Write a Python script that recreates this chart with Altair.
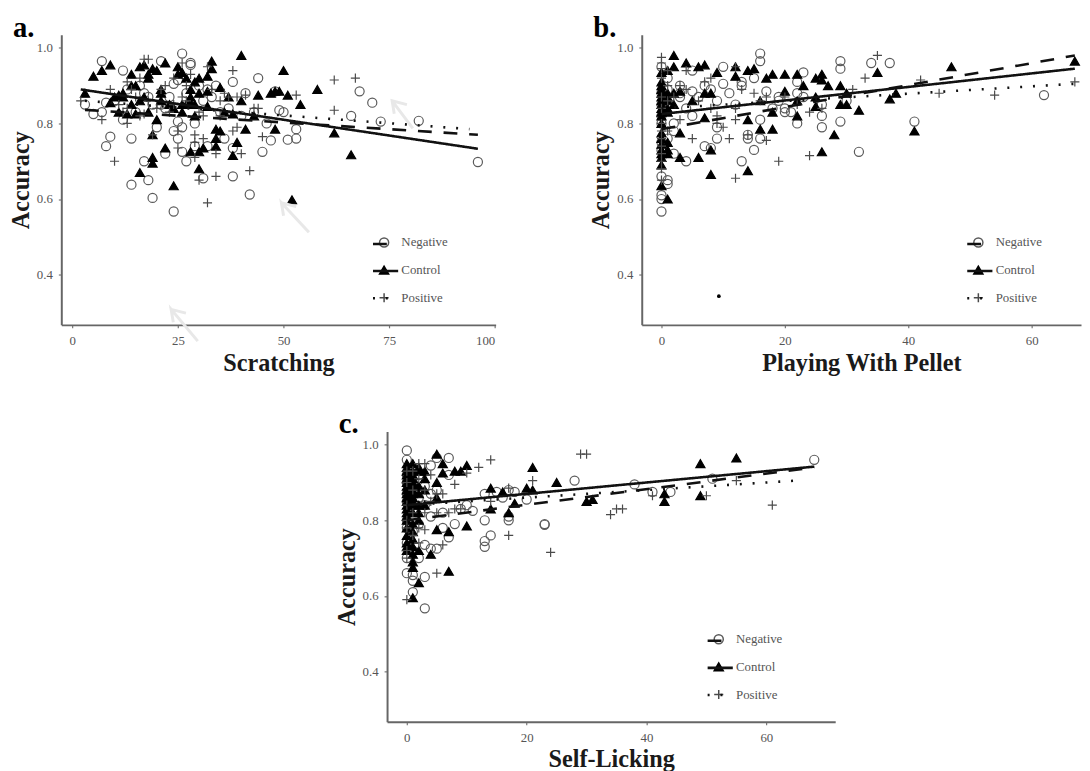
import altair as alt
import pandas as pd

GROUPS = ["Negative", "Control", "Positive"]

A_NEG_X = [7,12,26,28,21,38,44,24,25,68,71,66,73,82,96,53,53,51,47,45,46,49,38,38,42,31,27,22,24,25,26,25,26,14,9,8,14,17,18,19,24,3,5,7,8,17,20,21,29,32,36,30,32,22,33,15,40,43,50,10,13,16,19,23,27,28,31,34,35,37,29,18,12,41,48]
A_NEG_Y = [.965,.94,.985,.96,.965,.91,.92,.905,.915,.885,.855,.82,.805,.807,.698,.785,.76,.757,.755,.725,.80,.835,.735,.66,.612,.655,.70,.72,.78,.76,.725,.805,.79,.76,.765,.74,.638,.70,.65,.603,.567,.85,.825,.83,.855,.88,.79,.85,.74,.74,.76,.90,.89,.84,.87,.83,.82,.83,.83,.86,.89,.90,.85,.87,.88,.955,.86,.90,.83,.84,.80,.87,.81,.88,.885]
A_CON_X = [3,5,7,9,14,16,17,18,19,20,22,25,26,25,33,33,40,32,29,50,58,47,48,49,51,54,44,35,37,40,28,30,32,11,14,10,9,14,17,21,23,26,27,28,29,32,11,13,15,18,20,29,38,43,48,41,34,35,34,34,39,38,22,28,30,31,19,19,19,30,16,24,52,62,66,12,15,18,21,24,27,12,16,21,28,30,36,26]
A_CON_Y = [.88,.925,.94,.955,.93,.95,.955,.92,.945,.94,.96,.95,.935,.93,.965,.945,.98,.925,.91,.94,.89,.88,.885,.885,.875,.85,.875,.895,.87,.86,.89,.88,.885,.875,.90,.87,.855,.85,.87,.88,.85,.85,.85,.855,.85,.845,.83,.825,.825,.83,.81,.82,.825,.82,.785,.785,.785,.78,.76,.74,.75,.715,.735,.725,.725,.735,.71,.695,.77,.68,.67,.635,.598,.775,.717,.87,.90,.93,.89,.84,.92,.88,.86,.86,.87,.92,.83,.83]
A_POS_X = [2,7,10,13,9,13,17,18,19,16,17,25,25,24,26,29,29,31,29,34,30,34,32,42,40,38,45,41,38,39,53,62,67,62,35,36,31,35,26,20,13,11,43,28,22,15,12,14,18,23,27,30,33,37,39,44,27,21,24,16,32]
A_POS_Y = [.86,.81,.70,.80,.89,.91,.97,.97,.77,.82,.825,.78,.735,.92,.96,.77,.75,.76,.71,.72,.65,.66,.59,.675,.72,.78,.765,.875,.94,.87,.875,.915,.92,.835,.86,.88,.82,.82,.87,.84,.84,.85,.84,.93,.90,.87,.83,.89,.86,.83,.86,.83,.89,.87,.79,.84,.90,.89,.85,.92,.95]

B_NEG_X = [16,16,29,29,34,37,23,5,10,0,62,41,32,29,26,26,22,15,13,7,8,4,2,1,0,1,1,0,0,0,9,14,16,16,9,5,2,3,5,7,10,13,15,17,19,21,22,22,30,3,1,1,0,14,20,0,0,0,0,0,4,6,8,11,12,13,18,20,23,26,1,2,3,9,19]
B_NEG_Y = [.985,.965,.965,.945,.96,.96,.935,.94,.95,.95,.875,.805,.725,.805,.79,.82,.80,.73,.70,.74,.735,.70,.72,.76,.66,.65,.64,.61,.60,.567,.76,.76,.76,.81,.79,.82,.80,.87,.885,.90,.905,.90,.92,.885,.87,.83,.91,.88,.86,.90,.85,.89,.82,.77,.84,.75,.73,.85,.88,.80,.84,.87,.89,.88,.85,.91,.84,.83,.87,.85,.92,.78,.88,.86,.86]
B_CON_X = [2,4,6,7,2,1,0,9,12,14,15,12,17,18,20,22,25,26,26,27,29,35,47,67,38,37,30,29,30,32,28,26,41,22,25,25,20,23,22,16,18,14,16,18,14,8,8,6,3,3,7,7,8,5,3,1,1,0,0,0,0,0,0,0,0,0,0,0,0,1,1,2,0,0,0,0,1,1,1,1,2,0,0,0,1]
B_CON_Y = [.98,.96,.95,.955,.95,.94,.935,.935,.95,.94,.945,.925,.92,.93,.93,.93,.92,.93,.915,.90,.90,.935,.95,.965,.88,.865,.88,.85,.85,.835,.77,.725,.78,.82,.845,.87,.885,.90,.86,.86,.83,.81,.785,.785,.675,.665,.73,.71,.71,.775,.815,.88,.88,.86,.885,.86,.84,.90,.88,.87,.85,.83,.82,.76,.745,.73,.72,.69,.635,.60,.73,.85,.89,.86,.84,.775,.88,.87,.83,.75,.88,.91,.80,.71,.72]
B_POS_X = [0,0,0,35,33,42,45,54,67,24,19,12,17,11,5,9,12,12,17,15,12,8,4,3,1,0,0,0,0,0,0,0,1,2,6,8,10,14,24,31,20,0,0,1,1,3,4,7,9,13,16,22,26,0,0]
B_POS_Y = [.975,.96,.945,.98,.92,.915,.88,.875,.91,.715,.70,.655,.755,.76,.76,.80,.81,.84,.87,.88,.95,.92,.94,.90,.90,.80,.78,.74,.72,.70,.68,.65,.78,.87,.86,.84,.79,.77,.83,.89,.87,.87,.84,.94,.86,.81,.89,.91,.82,.89,.86,.85,.84,.92,.76]

C_NEG_X = [0,0,5,7,68,28,38,51,44,41,23,23,17,17,13,14,13,13,8,7,6,5,4,3,2,1,0,1,1,3,3,4,6,9,11,10,13,15,17,18,16,20,7,4,1,2,0,0,1,0,0,0,2,4,0,1,2,3,5,0,1,2,3,1,0]
C_NEG_Y = [.985,.96,.965,.965,.96,.905,.895,.91,.875,.875,.79,.788,.80,.81,.80,.76,.745,.73,.79,.755,.78,.725,.725,.735,.70,.655,.66,.64,.61,.65,.567,.81,.82,.83,.825,.84,.87,.875,.88,.875,.86,.855,.92,.945,.90,.88,.87,.85,.83,.80,.78,.74,.86,.87,.92,.94,.92,.89,.88,.90,.77,.79,.84,.72,.70]
C_CON_X = [5,10,9,8,6,6,21,25,20,21,14,16,17,14,18,30,31,43,43,49,55,49,10,7,5,4,7,2,1,1,1,0,0,1,2,1,0,0,1,0,1,0,1,0,1,0,1,0,1,0,1,2,3,3,5,5,3,2,2,0,0,0,1,3,0,0,0,0,0,0,1,1,1,1,1,2,2,2,2,0,0,1,1]
C_CON_Y = [.975,.945,.93,.93,.95,.925,.94,.90,.885,.88,.885,.875,.82,.83,.845,.85,.855,.87,.85,.95,.965,.865,.785,.77,.775,.71,.665,.635,.595,.675,.69,.72,.73,.71,.72,.77,.78,.81,.82,.83,.85,.86,.87,.88,.89,.90,.91,.92,.93,.94,.95,.94,.93,.91,.90,.86,.84,.80,.82,.95,.76,.74,.73,.88,.89,.87,.85,.84,.82,.80,.90,.88,.86,.84,.75,.89,.87,.84,.93,.93,.91,.79,.92]
C_POS_X = [29,30,14,12,10,8,21,55,50,41,34,35,36,61,17,24,5,6,3,0,0,0,6,3,2,4,7,8,5,0,1,1,0,2,0,17,14,3,1,2,3,4,0,1,2,0,9,5]
C_POS_Y = [.975,.975,.96,.94,.925,.895,.905,.905,.865,.865,.815,.83,.83,.84,.76,.715,.66,.735,.775,.59,.70,.80,.87,.95,.95,.92,.82,.83,.82,.90,.88,.76,.84,.78,.72,.885,.85,.82,.93,.91,.88,.85,.78,.82,.74,.93,.83,.87]

A_LINE_X = [3, 96, 2, 96, 3, 94]
A_LINE_Y = [.836, .77, .89, .733, .86, .785]
B_LINE_X = [0, 67, 0, 67, 0, 67]
B_LINE_Y = [.785, .98, .825, .945, .84, .905]
C_LINE_X = [0, 68, 0, 68, 0, 65]
C_LINE_Y = [.80, .94, .84, .942, .84, .905]
LINE_GROUP = ["Negative", "Negative", "Control", "Control", "Positive", "Positive"]

ARROW_ID = [1,1,1,1,1, 2,2,2,2,2, 3,3,3,3,3]
ARROW_ORD = [0,1,2,3,4]*3
ARROW_X = [29.7,23.4,23.9,23.4,26.9, 56.0,49.5,50.0,49.5,53.0, 80.6,75.7,76.2,75.7,79.2]
ARROW_Y = [.224,.308,.274,.308,.298, .512,.590,.556,.590,.580, .787,.860,.826,.860,.850]

DOT_X = [9.3]
DOT_Y = [.343]

SERIF = "Liberation Serif"
PT_SHAPES = ["circle", "triangle-up", "M-1,0L1,0M0,-1L0,1"]
PT_SIZES = [85, 85, 170]
PT_FILL = ["transparent", "black", "transparent"]
PT_STROKE = ["#5a5a5a", "black", "#4a4a4a"]
DASHES = [[14, 12], [1, 0], [2, 11]]


def pts(neg, con, pos):
    rows = []
    for g, (xs, ys) in zip(GROUPS, (neg, con, pos)):
        rows += [{"x": x, "y": y, "Group": g} for x, y in zip(xs, ys)]
    return pd.DataFrame(rows)


def panel(letter, title, neg, con, pos, lx, ly, xdom, xticks, w, h, lgx, xtp=4, extra=None):
    xs = alt.Scale(domain=xdom, nice=False, zero=False)
    ys = alt.Scale(domain=[.267, 1.035], nice=False, zero=False)
    xa = alt.X("x:Q", scale=xs, axis=alt.Axis(values=xticks, title=title, titlePadding=xtp, labelPadding=7))
    ya = alt.Y("y:Q", scale=ys, axis=alt.Axis(values=[.4, .6, .8, 1.0], format=".1f", title="Accuracy", titlePadding=3, labelPadding=6))

    lines_df = pd.DataFrame({"x": lx, "y": ly, "LineGroup": LINE_GROUP})
    lines = alt.Chart(lines_df).mark_line(color="#111", strokeWidth=2.6).encode(
        x=xa, y=ya,
        strokeDash=alt.StrokeDash("LineGroup:N", sort=GROUPS,
            scale=alt.Scale(domain=GROUPS, range=DASHES),
            legend=alt.Legend(orient="none", legendX=lgx - 8, legendY=199.5, title=None,
                              symbolType="stroke", symbolSize=650, symbolStrokeWidth=2.6, symbolStrokeColor="#111",
                              labelExpr="''", labelFontSize=12, clipHeight=25, rowPadding=2.5)),
    )
    leg = alt.Legend(orient="none", legendX=lgx - 1.5, legendY=204, title=None,
                     labelFont=SERIF, labelFontSize=13, labelColor="#555",
                     labelOffset=11, rowPadding=12)
    scat = alt.Chart(pts(neg, con, pos)).mark_point(filled=False, strokeWidth=1.2, opacity=1).encode(
        x=xa, y=ya,
        shape=alt.Shape("Group:N", sort=GROUPS, scale=alt.Scale(domain=GROUPS, range=PT_SHAPES), legend=leg),
        size=alt.Size("Group:N", sort=GROUPS, scale=alt.Scale(domain=GROUPS, range=PT_SIZES), legend=leg),
        fill=alt.Fill("Group:N", sort=GROUPS, scale=alt.Scale(domain=GROUPS, range=PT_FILL), legend=leg),
        stroke=alt.Stroke("Group:N", sort=GROUPS, scale=alt.Scale(domain=GROUPS, range=PT_STROKE), legend=leg),
    )
    tag = alt.Chart(pd.DataFrame({"t": [letter]})).mark_text(
        font=SERIF, fontWeight="bold", fontSize=29, align="left", baseline="alphabetic", color="black"
    ).encode(x=alt.value(-49), y=alt.value(2), text="t:N")
    layers = [scat, lines]
    if extra:
        layers += extra(xa, ya)
    layers.append(tag)
    return alt.layer(*layers).resolve_scale(strokeDash="independent").properties(width=w, height=h)


def arrows(xa, ya):
    df = pd.DataFrame({"x": ARROW_X, "y": ARROW_Y, "id": ARROW_ID, "o": ARROW_ORD})
    return [alt.Chart(df).mark_line(color="#e8e8e8", strokeWidth=3).encode(
        x=xa, y=ya, detail="id:N", order="o:Q")]


def dot(xa, ya):
    df = pd.DataFrame({"x": DOT_X, "y": DOT_Y})
    return [alt.Chart(df).mark_circle(color="black", size=14, opacity=1).encode(x=xa, y=ya)]


a = panel("a.", "Scratching", (A_NEG_X, A_NEG_Y), (A_CON_X, A_CON_Y), (A_POS_X, A_POS_Y),
          A_LINE_X, A_LINE_Y, [-2.6, 100.2], [0, 25, 50, 75, 100], 440, 294, 322, extra=arrows)
b = panel("b.", "Playing With Pellet", (B_NEG_X, B_NEG_Y), (B_CON_X, B_CON_Y), (B_POS_X, B_POS_Y),
          B_LINE_X, B_LINE_Y, [-3.2, 68], [0, 20, 40, 60], 445, 294, 336, extra=dot)
c = panel("c.", "Self-Licking", (C_NEG_X, C_NEG_Y), (C_CON_X, C_CON_Y), (C_POS_X, C_POS_Y),
          C_LINE_X, C_LINE_Y, [-3.3, 71.5], [0, 20, 40, 60], 454, 294, 331, xtp=3)

spacer = alt.Chart(pd.DataFrame({"x": [0]})).mark_point(opacity=0).encode(
    x=alt.value(0), y=alt.value(0)).properties(width=276, height=294)

INDEP = dict(shape="independent", size="independent", fill="independent", stroke="independent")
top = alt.hconcat(a, b, spacing=94).resolve_scale(**INDEP)
bottom = alt.hconcat(spacer, c, spacing=0).resolve_scale(**INDEP)
chart = alt.vconcat(top, bottom, spacing=36).resolve_scale(**INDEP).properties(
    padding={"left": 0, "top": 1, "right": 0, "bottom": 0}
).configure_view(stroke=None).configure_axis(
    grid=False, domainColor="#666", domainWidth=2, tickColor="#777", tickSize=3, tickWidth=1.2,
    labelFont=SERIF, labelFontSize=13, labelColor="#555",
    titleFont=SERIF, titleFontWeight="bold", titleFontSize=24.5, titleColor="#1a1a1a",
).configure_legend(padding=0)

chart.save("out.html", embed_options={"renderer": "svg", "actions": False})
